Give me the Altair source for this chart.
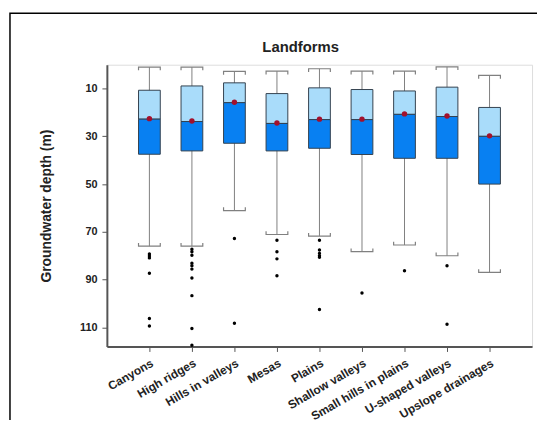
import altair as alt
import pandas as pd

categories = ["Canyons", "High ridges", "Hills in valleys", "Mesas", "Plains",
              "Shallow valleys", "Small hills in plains", "U-shaped valleys",
              "Upslope drainages"]
whisker_top = [1.0, 1.0, 2.8, 2.7, 1.7, 2.7, 2.7, 0.9, 4.5]
q1 = [10.7, 8.9, 7.6, 12.1, 9.7, 10.4, 11.0, 9.4, 17.9]
median = [22.8, 23.8, 15.9, 24.6, 23.0, 23.0, 20.8, 21.7, 30.0]
q3 = [37.5, 36.1, 32.9, 36.1, 35.0, 37.6, 39.2, 39.2, 50.0]
whisker_bottom = [76.0, 76.0, 61.1, 71.1, 71.8, 78.3, 75.5, 80.0, 87.0]
mean = [22.6, 23.6, 15.7, 24.4, 22.8, 22.8, 20.6, 21.5, 29.8]

outlier_cats = (["Canyons"] * 6 + ["High ridges"] * 10 + ["Hills in valleys"] * 2
                + ["Mesas"] * 4 + ["Plains"] * 6 + ["Shallow valleys"]
                + ["Small hills in plains"] + ["U-shaped valleys"] * 2)
outlier_vals = ([79.3, 80.1, 80.9, 87.3, 106.3, 109.4]
                + [77.3, 78.3, 79.8, 83.1, 84.2, 85.6, 89.3, 96.7, 110.5, 117.5]
                + [72.8, 108.3]
                + [73.5, 78.3, 81.3, 88.4]
                + [73.5, 77.6, 79.0, 80.0, 80.6, 102.5]
                + [95.6]
                + [86.3]
                + [84.2, 108.7])

box = pd.DataFrame({"cat": categories, "lo": whisker_top, "q1": q1, "med": median,
                    "q3": q3, "hi": whisker_bottom, "mean": mean})
out = pd.DataFrame({"cat": outlier_cats, "v": outlier_vals})

FONT = "Liberation Sans"
x_enc = alt.X("cat:N", sort=categories, title=None,
              scale=alt.Scale(type="point", padding=1),
              axis=alt.Axis(labelAngle=-30, labelAlign="right", labelBaseline="top",
                            labelFont=FONT, labelFontSize=12, labelFontWeight="bold",
                            labelColor="#222", labelPadding=6, tickSize=5,
                            tickColor="#555", domainColor="#555", domainWidth=2,
                            labelOverlap=False))
y_scale = alt.Scale(domain=[0, 118], reverse=True, nice=False, zero=False)
y_axis = alt.Axis(values=list(range(10, 111, 10)),
                  labelExpr="datum.value % 20 == 10 ? datum.label : ''",
                  title="Groundwater depth (m)", titleFont=FONT, titleFontSize=14,
                  titleFontWeight="bold", titleColor="#222", titlePadding=26,
                  labelFont=FONT, labelFontSize=11, labelFontWeight="bold",
                  labelColor="#222", labelPadding=5, tickSize=5, tickColor="#555",
                  domainColor="#555", domainWidth=2, grid=False)

base = alt.Chart(box).encode(x=x_enc)

whisk = base.mark_rule(color="#808080", strokeWidth=1).encode(
    y=alt.Y("lo:Q", scale=y_scale, axis=y_axis), y2="hi:Q")

top_cap = base.mark_point(shape="M -1 0.3 L -1 0 L 1 0 L 1 0.3", filled=False,
                          size=484, color="#808080", strokeWidth=1.2, opacity=1).encode(
    y=alt.Y("lo:Q"))
bot_cap = base.mark_point(shape="M -1 -0.3 L -1 0 L 1 0 L 1 -0.3", filled=False,
                          size=484, color="#808080", strokeWidth=1.2, opacity=1).encode(
    y=alt.Y("hi:Q"))

upper = base.mark_bar(width=22, fill="#a9dcfa", stroke="#34414f", strokeWidth=1).encode(
    y="q1:Q", y2="med:Q")
lower = base.mark_bar(width=22, fill="#0880f2", stroke="#34414f", strokeWidth=1).encode(
    y="med:Q", y2="q3:Q")

mean_pts = base.mark_circle(size=30, color="#a3102c", opacity=1).encode(y="mean:Q")

outliers = alt.Chart(out).mark_circle(size=12, color="#000000", opacity=1).encode(
    x=alt.X("cat:N", sort=categories), y="v:Q")

frame = alt.Chart(alt.Data(values=[{"f": 1}])).mark_rect(
    fill="transparent", stroke="#000000", strokeWidth=1.5).encode(
    x=alt.value(-98), x2=alt.value(700), y=alt.value(-52), y2=alt.value(600))

chart = alt.layer(frame, whisk, top_cap, bot_cap, upper, lower, mean_pts, outliers).properties(
    width=430, height=285,
    title=alt.TitleParams("Landforms", font=FONT, fontSize=15, fontWeight="bold",
                          color="#222", offset=-43, dx=-19, frame="group"),
    autosize=alt.AutoSizeParams(type="none"),
    padding={"left": 100, "top": 55, "right": 5, "bottom": 72},
).configure_view(stroke=None).configure(background="white")

chart.save("out.html", embed_options={"renderer": "svg", "actions": False})
